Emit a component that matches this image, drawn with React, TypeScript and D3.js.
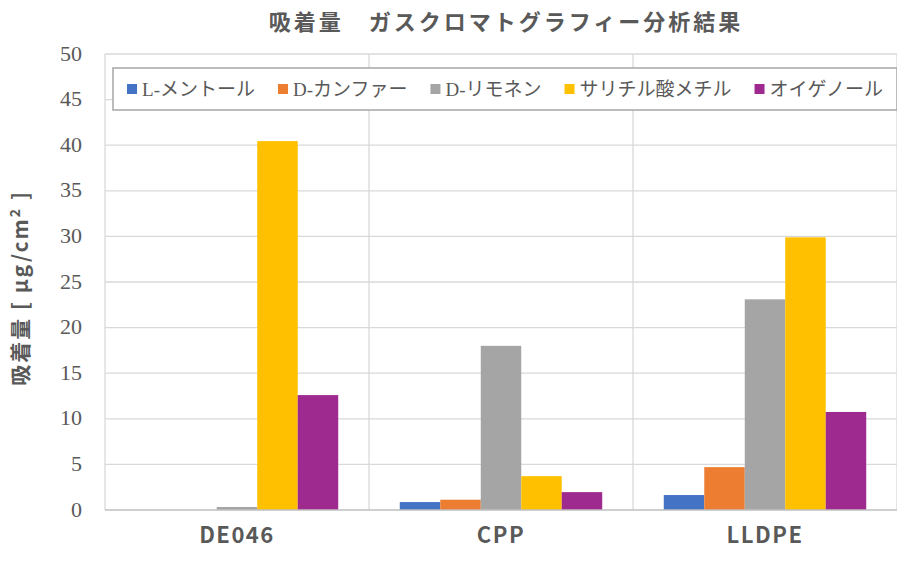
import { useEffect, useRef } from 'react';
import * as d3 from 'd3';

const WIDTH = 905;
const HEIGHT = 563;

const categories = ['DE046', 'CPP', 'LLDPE'];
const seriesNames = ['L-メントール', 'D-カンファー', 'D-リモネン', 'サリチル酸メチル', 'オイゲノール'];
const seriesColors = ['#4472c4', '#ed7d31', '#a5a5a5', '#ffc000', '#9e2a8f'];

const mentholValues = [0, 0.87, 1.64];
const camphorValues = [0, 1.13, 4.7];
const limoneneValues = [0.33, 18.0, 23.1];
const salicylateValues = [40.45, 3.71, 29.9];
const eugenolValues = [12.6, 1.96, 10.75];

const yTicks = [0, 5, 10, 15, 20, 25, 30, 35, 40, 45, 50];

const TITLE = '吸着量　ガスクロマトグラフィー分析結果';
const SERIF = "'Liberation Serif', 'Noto Sans CJK JP', serif";
const SANS = "'Noto Sans CJK JP', 'Noto Sans', sans-serif";
const TEXT = '#595959';
const GRID = '#d9d9d9';

const margin = { top: 54, right: 8, bottom: 53, left: 105 };

export default function App() {
  const ref = useRef<SVGSVGElement>(null);

  useEffect(() => {
    const svg = d3.select(ref.current);
    svg.selectAll('*').remove();

    const series = [mentholValues, camphorValues, limoneneValues, salicylateValues, eugenolValues];
    const innerW = WIDTH - margin.left - margin.right;
    const innerH = HEIGHT - margin.top - margin.bottom;

    const x0 = d3.scaleBand<string>().domain(categories).range([0, innerW]).paddingInner(0).paddingOuter(0);
    // Excel gap width ~152%: 5 bars of w + gap of 1.52w per category
    const groupInner = x0.bandwidth() * (5 / 6.52);
    const x1 = d3.scaleBand<number>()
      .domain(d3.range(seriesNames.length))
      .range([(x0.bandwidth() - groupInner) / 2, (x0.bandwidth() + groupInner) / 2]);
    const y = d3.scaleLinear().domain([0, 50]).range([innerH, 0]);

    const g = svg.append('g').attr('transform', `translate(${margin.left},${margin.top})`);

    // horizontal gridlines
    g.selectAll('line.hgrid')
      .data(yTicks.filter(t => t > 0))
      .join('line')
      .attr('x1', 0).attr('x2', innerW)
      .attr('y1', d => y(d)).attr('y2', d => y(d))
      .attr('stroke', GRID).attr('stroke-width', 1.3);

    // vertical gridlines (category boundaries)
    g.selectAll('line.vgrid')
      .data([0, ...categories.map(c => (x0(c) ?? 0) + x0.bandwidth())])
      .join('line')
      .attr('x1', d => d).attr('x2', d => d)
      .attr('y1', 0).attr('y2', innerH)
      .attr('stroke', GRID).attr('stroke-width', 1.3);

    // bars
    categories.forEach((cat, ci) => {
      g.append('g')
        .attr('transform', `translate(${x0(cat)},0)`)
        .selectAll('rect')
        .data(series.map((s, si) => ({ si, v: s[ci] })))
        .join('rect')
        .attr('x', d => x1(d.si) ?? 0)
        .attr('width', x1.bandwidth())
        .attr('y', d => y(d.v))
        .attr('height', d => innerH - y(d.v))
        .attr('fill', d => seriesColors[d.si]);
    });

    // x axis line
    g.append('line')
      .attr('x1', 0).attr('x2', innerW)
      .attr('y1', innerH).attr('y2', innerH)
      .attr('stroke', '#bfbfbf').attr('stroke-width', 1.5);

    // y tick labels
    g.selectAll('text.ytick')
      .data(yTicks)
      .join('text')
      .attr('x', -23)
      .attr('y', d => y(d))
      .attr('dy', '0.3em')
      .attr('text-anchor', 'end')
      .attr('font-family', SERIF)
      .attr('font-size', 22)
      .attr('fill', TEXT)
      .text(d => d);

    // x labels
    g.selectAll('text.xtick')
      .data(categories)
      .join('text')
      .attr('x', d => (x0(d) ?? 0) + x0.bandwidth() / 2)
      .attr('y', innerH + 33)
      .attr('text-anchor', 'middle')
      .attr('font-family', SANS)
      .attr('font-weight', 'bold')
      .attr('font-size', 22)
      .attr('letter-spacing', 1.5)
      .attr('fill', TEXT)
      .text(d => d);

    // title
    svg.append('text')
      .attr('x', 506)
      .attr('y', 30)
      .attr('text-anchor', 'middle')
      .attr('font-family', SANS)
      .attr('font-weight', 'bold')
      .attr('font-size', 22)
      .attr('letter-spacing', 3)
      .attr('fill', TEXT)
      .text(TITLE);

    // y axis title
    const yt = svg.append('text')
      .attr('transform', 'translate(28,288) rotate(-90)')
      .attr('text-anchor', 'middle')
      .attr('font-family', SANS)
      .attr('font-weight', 'bold')
      .attr('font-size', 21)
      .attr('letter-spacing', 2)
      .attr('fill', TEXT);
    yt.append('tspan').text('吸着量 [ μg/cm');
    yt.append('tspan').attr('dy', -8).attr('font-size', 14).text('2');
    yt.append('tspan').attr('dy', 8).text(' ]');

    // legend
    const lg = svg.append('g');
    const box = { x: 113, y: 68, w: 784, h: 42 };
    lg.append('rect')
      .attr('x', box.x).attr('y', box.y)
      .attr('width', box.w).attr('height', box.h)
      .attr('fill', '#ffffff')
      .attr('stroke', '#a6a6a6').attr('stroke-width', 1.5);

    const items = lg.selectAll('g.item')
      .data(seriesNames)
      .join('g');
    items.append('rect')
      .attr('width', 10).attr('height', 10)
      .attr('y', -5)
      .attr('fill', (_, i) => seriesColors[i]);
    items.append('text')
      .attr('x', 15)
      .attr('dy', '0.35em')
      .attr('font-family', SERIF)
      .attr('font-size', 19)
      .attr('fill', TEXT)
      .text(d => d);

    const widths: number[] = [];
    items.each(function () {
      widths.push((this as SVGGElement).getBBox().width);
    });
    const gap = 23;
    const total = d3.sum(widths) + gap * (widths.length - 1);
    let cx = box.x + (box.w - total) / 2;
    items.attr('transform', (_, i) => {
      const t = `translate(${cx},${box.y + box.h / 2})`;
      cx += widths[i] + gap;
      return t;
    });
  }, []);

  return <svg ref={ref} width={WIDTH} height={HEIGHT} style={{ display: 'block', margin: -8 }} />;
}
